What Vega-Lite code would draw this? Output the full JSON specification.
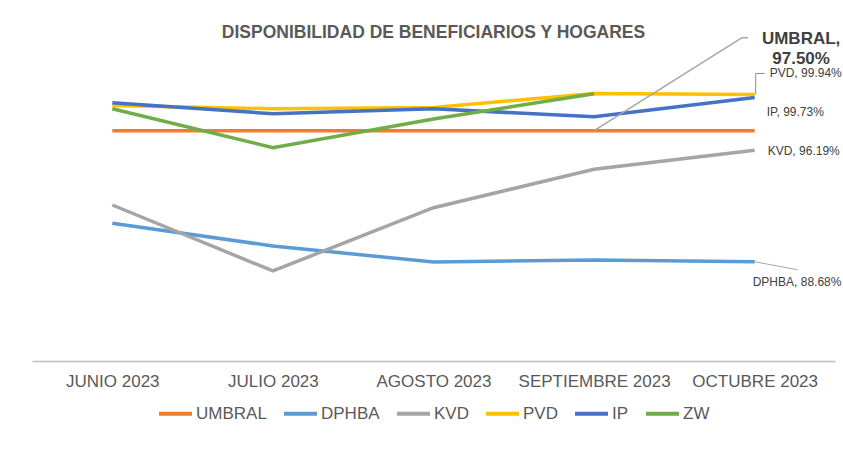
{
  "$schema": "https://vega.github.io/schema/vega-lite/v6.json",
  "width": 803,
  "height": 312,
  "autosize": {"type": "none"},
  "padding": {"left": 32, "top": 49, "right": 8, "bottom": 99},
  "background": "white",
  "title": {"text": "DISPONIBILIDAD  DE BENEFICIARIOS Y HOGARES", "font": "Liberation Sans", "fontSize": 17.5, "fontWeight": "bold", "color": "#595959", "anchor": "middle", "offset": -12},
  "config": {"view": {"stroke": null}, "font": "Liberation Sans"},
  "datasets": {
    "main": [
      {"series": "UMBRAL", "month": "JUNIO 2023", "value": 97.5},
      {"series": "UMBRAL", "month": "JULIO 2023", "value": 97.5},
      {"series": "UMBRAL", "month": "AGOSTO 2023", "value": 97.5},
      {"series": "UMBRAL", "month": "SEPTIEMBRE 2023", "value": 97.5},
      {"series": "UMBRAL", "month": "OCTUBRE 2023", "value": 97.5},
      {"series": "DPHBA", "month": "JUNIO 2023", "value": 91.27},
      {"series": "DPHBA", "month": "JULIO 2023", "value": 89.74},
      {"series": "DPHBA", "month": "AGOSTO 2023", "value": 88.66},
      {"series": "DPHBA", "month": "SEPTIEMBRE 2023", "value": 88.8},
      {"series": "DPHBA", "month": "OCTUBRE 2023", "value": 88.68},
      {"series": "KVD", "month": "JUNIO 2023", "value": 92.5},
      {"series": "KVD", "month": "JULIO 2023", "value": 88.06},
      {"series": "KVD", "month": "AGOSTO 2023", "value": 92.32},
      {"series": "KVD", "month": "SEPTIEMBRE 2023", "value": 94.9},
      {"series": "KVD", "month": "OCTUBRE 2023", "value": 96.19},
      {"series": "PVD", "month": "JUNIO 2023", "value": 99.2},
      {"series": "PVD", "month": "JULIO 2023", "value": 98.98},
      {"series": "PVD", "month": "AGOSTO 2023", "value": 99.07},
      {"series": "PVD", "month": "SEPTIEMBRE 2023", "value": 100.0},
      {"series": "PVD", "month": "OCTUBRE 2023", "value": 99.94},
      {"series": "IP", "month": "JUNIO 2023", "value": 99.38},
      {"series": "IP", "month": "JULIO 2023", "value": 98.64},
      {"series": "IP", "month": "AGOSTO 2023", "value": 98.97},
      {"series": "IP", "month": "SEPTIEMBRE 2023", "value": 98.44},
      {"series": "IP", "month": "OCTUBRE 2023", "value": 99.73},
      {"series": "ZW", "month": "JUNIO 2023", "value": 98.98},
      {"series": "ZW", "month": "JULIO 2023", "value": 96.36},
      {"series": "ZW", "month": "AGOSTO 2023", "value": 98.29},
      {"series": "ZW", "month": "SEPTIEMBRE 2023", "value": 99.99}
    ],
    "labels": [
      {"series": "UMBRAL", "month": "SEPTIEMBRE 2023", "value": 97.5, "label": "UMBRAL,\n97.50%"},
      {"series": "PVD", "month": "OCTUBRE 2023", "value": 99.94, "label": "PVD, 99.94%"},
      {"series": "IP", "month": "OCTUBRE 2023", "value": 99.73, "label": "IP, 99.73%"},
      {"series": "KVD", "month": "OCTUBRE 2023", "value": 96.19, "label": "KVD, 96.19%"},
      {"series": "DPHBA", "month": "OCTUBRE 2023", "value": 88.68, "label": "DPHBA, 88.68%"}
    ]
  },
  "encoding": {
    "x": {"field": "month", "type": "ordinal", "scale": {"type": "point", "padding": 0.5, "domain": ["JUNIO 2023", "JULIO 2023", "AGOSTO 2023", "SEPTIEMBRE 2023", "OCTUBRE 2023"]},
      "axis": {"title": null, "labelAngle": 0, "labelFontSize": 17, "labelColor": "#595959", "labelPadding": 12, "ticks": false, "domainColor": "#bfbfbf", "domainWidth": 1.5, "grid": false}},
    "y": {"field": "value", "type": "quantitative", "scale": {"domain": [82, 103], "zero": false, "nice": false}, "axis": null}
  },
  "layer": [
    {
      "data": {"name": "main"},
      "mark": {"type": "line", "strokeWidth": 3.5, "clip": false},
      "encoding": {
        "color": {"field": "series", "type": "nominal",
          "scale": {"domain": ["UMBRAL", "DPHBA", "KVD", "PVD", "IP", "ZW"], "range": ["#ED7D31", "#5B9BD5", "#A5A5A5", "#FFC000", "#4472C4", "#70AD47"]},
          "legend": {"title": null, "orient": "none", "legendX": 125, "legendY": 346, "direction": "horizontal", "symbolType": "stroke", "symbolStrokeWidth": 4, "symbolSize": 1089, "labelFontSize": 17, "labelColor": "#595959", "labelOffset": 2, "columnPadding": 9}}
      }
    },
    {
      "data": {"name": "labels"},
      "transform": [{"filter": "datum.series == 'UMBRAL'"}],
      "mark": {"type": "rule", "color": "#a6a6a6", "strokeWidth": 1.5, "x2Offset": 148, "y2Offset": -93},
      "encoding": {"x2": {"field": "month"}, "y2": {"field": "value"}}
    },
    {
      "data": {"name": "labels"},
      "transform": [{"filter": "datum.series == 'UMBRAL'"}],
      "mark": {"type": "rule", "color": "#a6a6a6", "strokeWidth": 1.5, "xOffset": 148, "yOffset": -93, "x2Offset": 154, "y2Offset": -93},
      "encoding": {"x2": {"field": "month"}, "y2": {"field": "value"}}
    },
    {
      "data": {"name": "labels"},
      "transform": [{"filter": "datum.series == 'UMBRAL'"}],
      "mark": {"type": "text", "align": "center", "baseline": "middle", "lineBreak": "\n", "lineHeight": 20, "dx": 207, "dy": -92, "fontSize": 17, "fontWeight": "bold", "color": "#404040"},
      "encoding": {"text": {"field": "label"}}
    },
    {
      "data": {"name": "labels"},
      "transform": [{"filter": "datum.series == 'PVD'"}],
      "mark": {"type": "rule", "color": "#8c8c8c", "strokeWidth": 1, "xOffset": 1, "x2Offset": 1, "y2Offset": -21},
      "encoding": {"x2": {"field": "month"}, "y2": {"field": "value"}}
    },
    {
      "data": {"name": "labels"},
      "transform": [{"filter": "datum.series == 'PVD'"}],
      "mark": {"type": "rule", "color": "#8c8c8c", "strokeWidth": 1, "xOffset": 1, "yOffset": -21, "x2Offset": 10, "y2Offset": -21},
      "encoding": {"x2": {"field": "month"}, "y2": {"field": "value"}}
    },
    {
      "data": {"name": "labels"},
      "transform": [{"filter": "datum.series == 'PVD'"}],
      "mark": {"type": "text", "align": "left", "baseline": "middle", "dx": 15, "dy": -21, "fontSize": 12, "color": "#404040"},
      "encoding": {"text": {"field": "label"}}
    },
    {
      "data": {"name": "labels"},
      "transform": [{"filter": "datum.series == 'IP'"}],
      "mark": {"type": "text", "align": "left", "baseline": "middle", "dx": 12, "dy": 14, "fontSize": 12, "color": "#404040"},
      "encoding": {"text": {"field": "label"}}
    },
    {
      "data": {"name": "labels"},
      "transform": [{"filter": "datum.series == 'KVD'"}],
      "mark": {"type": "text", "align": "left", "baseline": "middle", "dx": 13, "dy": 1, "fontSize": 12, "color": "#404040"},
      "encoding": {"text": {"field": "label"}}
    },
    {
      "data": {"name": "labels"},
      "transform": [{"filter": "datum.series == 'DPHBA'"}],
      "mark": {"type": "rule", "color": "#a6a6a6", "strokeWidth": 1, "x2Offset": 43, "y2Offset": 8},
      "encoding": {"x2": {"field": "month"}, "y2": {"field": "value"}}
    },
    {
      "data": {"name": "labels"},
      "transform": [{"filter": "datum.series == 'DPHBA'"}],
      "mark": {"type": "text", "align": "left", "baseline": "middle", "dx": -2, "dy": 20, "fontSize": 12, "color": "#404040"},
      "encoding": {"text": {"field": "label"}}
    }
  ]
}
